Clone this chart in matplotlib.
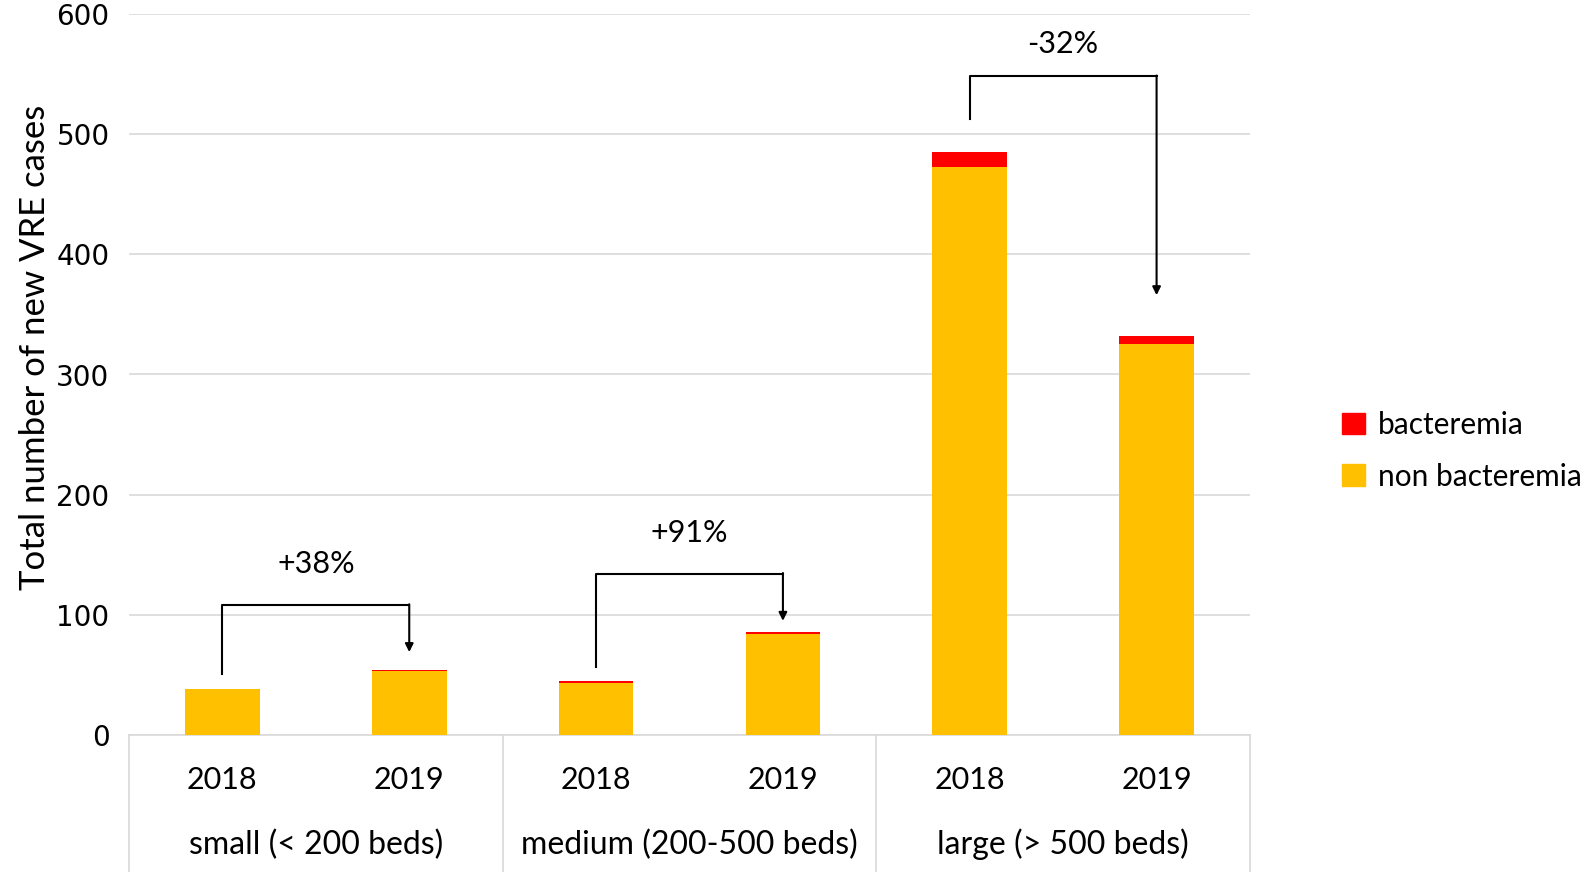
import numpy as np
import matplotlib.pyplot as plt
from matplotlib.patches import Patch
import matplotlib.transforms as mtransforms

groups = ["small (< 200 beds)", "medium (200-500 beds)", "large (> 500 beds)"]
years = ["2018", "2019"]
non_bact = [38, 53, 43, 84, 473, 325]
bact = [0, 1, 2, 2, 12, 7]
changes = ["+38%", "+91%", "-32%"]
# bracket heights (start, top, arrow end, label) per group
br_start = [51, 57, 513]
br_top = [108, 134, 548]
br_end = [69, 95, 366]
lab_y = [142, 168, 575]

narrow = ['Lato', 'DejaVu Sans']

fig = plt.figure(figsize=(15.94, 8.72), dpi=100)
ax = fig.add_axes([129 / 1594, 137 / 872, 1121 / 1594, 721 / 872])

x = np.arange(len(non_bact))
ax.bar(x, non_bact, width=0.4, color='#ffc000', zorder=3)
ax.bar(x, bact, width=0.4, bottom=non_bact, color='#ff0000', zorder=3)

ax.set_xlim(-0.5, 5.5)
ax.set_ylim(0, 600)
ax.set_yticks(range(0, 601, 100))
ax.tick_params(axis='y', length=0, labelsize=20, pad=14)
ax.set_xticks([])
ax.grid(axis='y', color='#d9d9d9', lw=1.2, zorder=0)
for s in ['top', 'right', 'left']:
    ax.spines[s].set_visible(False)
ax.spines['bottom'].set_color('#d9d9d9')
ax.spines['bottom'].set_linewidth(1.2)
ax.set_ylabel("Total number of new VRE cases", fontsize=25, family=narrow, labelpad=4, y=0.538)

# category axis below the plot
trans = mtransforms.blended_transform_factory(ax.transData, ax.transAxes)
for xs in [-0.5, 1.5, 3.5, 5.5]:
    ax.plot([xs, xs], [0, -0.2], color='#d9d9d9', lw=1.2, transform=trans, clip_on=False)
for i in x:
    ax.text(i, -0.063, years[i % 2], transform=trans, ha='center', va='center',
            fontsize=22, family=narrow)
for g, name in enumerate(groups):
    ax.text(2 * g + 0.5, -0.152, name, transform=trans, ha='center', va='center',
            fontsize=23, family=narrow)

# change brackets
for g in range(3):
    x0, x1 = 2 * g, 2 * g + 1
    ax.plot([x0, x0, x1], [br_start[g], br_top[g], br_top[g]], color='black', lw=1.5, zorder=4)
    ax.annotate("", xy=(x1, br_end[g]), xytext=(x1, br_top[g] + 0.8),
                arrowprops=dict(arrowstyle='-|>', color='black', lw=1.5,
                                mutation_scale=12, shrinkA=0, shrinkB=0), zorder=4)
    ax.text(2 * g + 0.5, lab_y[g], changes[g], ha='center', va='center',
            fontsize=22, family=narrow)

handles = [Patch(color='#ff0000', label='bacteremia'),
           Patch(color='#ffc000', label='non bacteremia')]
fig.legend(handles=handles, loc='center left', bbox_to_anchor=(0.8345, 0.483),
           frameon=False, prop={'family': narrow, 'size': 21.5},
           handlelength=0.75, handleheight=0.75, handletextpad=0.45, labelspacing=0.8,
           borderpad=0.2, borderaxespad=0.2)

plt.savefig('out.png', dpi=100)
